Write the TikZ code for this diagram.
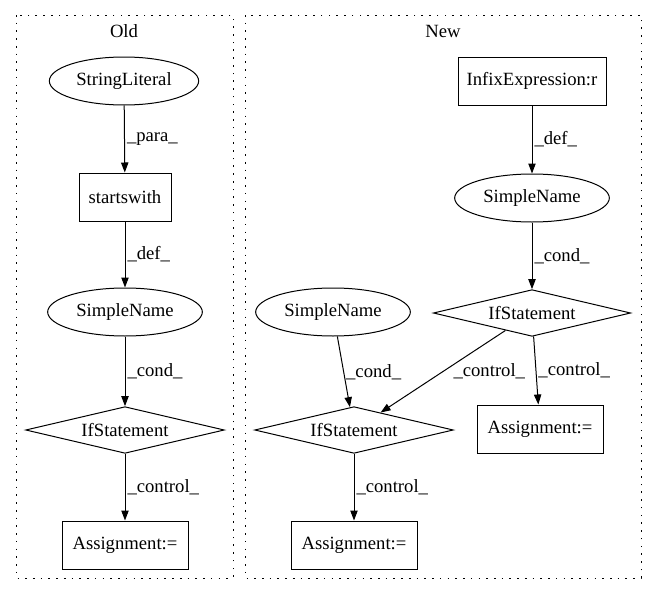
\documentclass[tikz,border=0pt]{standalone}
\usepackage{fontspec}
\setmainfont{Liberation Serif}
\usetikzlibrary{arrows.meta}
\usetikzlibrary{shapes.geometric}

\begin{document}
\begin{tikzpicture}[x=0.75pt, y=-0.75pt, line width=0.75pt]
\useasboundingbox (0,0) rectangle (657,596);
\begin{scope}
	\tikzstyle{every node}=[font=\fontsize{14}{16}\selectfont, inner sep=0pt, align=center]
	\tikzstyle{ell}=[draw, ellipse, minimum height=36pt]
	\tikzstyle{blk}=[draw, rectangle, minimum height=36pt]
	\tikzstyle{cnd}=[draw, diamond, shape aspect=4.25, minimum width=149pt, minimum height=35pt]
	\tikzstyle{edge}=[-{Triangle[length=7.5pt, width=5.5pt]}]
	\tikzstyle{lbl}=[midway, right, inner sep=1.5pt]
	\tikzstyle{cluster}=[dash pattern=on 1.2pt off 4.6pt]

	% clusters
	\draw[cluster] (16,15) rectangle (233,578);
	\draw[cluster] (245,15) rectangle (641,578);
	\node (old) at (124,31) {Old};
	\node (new) at (443,31) {New};

	% old
	\node[ell, minimum width=112pt] (lit) at (124,81) {StringLiteral};
	\node[blk, minimum width=69pt] (sw) at (125,197) {startswith};
	\node[ell, minimum width=116pt] (sn0) at (125,312) {SimpleName};
	\node[cnd] (if0) at (125,430) {IfStatement};
	\node[blk, minimum width=94.5pt] (as0) at (125,545) {Assignment:=};

	% new
	\node[blk, minimum width=111pt] (infix) at (532,81) {InfixExpression:r};
	\node[ell, minimum width=116pt] (sn1) at (532,198) {SimpleName};
	\node[cnd, minimum width=148pt] (if1) at (532,313) {IfStatement};
	\node[ell, minimum width=116pt] (sn2) at (333,312) {SimpleName};
	\node[cnd] (if2) at (354,430) {IfStatement};
	\node[blk, minimum width=94.5pt] (as1) at (540,429) {Assignment:=};
	\node[blk, minimum width=94.5pt] (as2) at (354,545) {Assignment:=};

	\draw[edge] (lit) -- node[lbl]{\_para\_} (sw);
	\draw[edge] (sw) -- node[lbl]{\_def\_} (sn0);
	\draw[edge] (sn0) -- node[lbl]{\_cond\_} (if0);
	\draw[edge] (if0) -- node[lbl]{\_control\_} (as0);

	\draw[edge] (infix) -- node[lbl]{\_def\_} (sn1);
	\draw[edge] (sn1) -- node[lbl]{\_cond\_} (if1);
	\draw[edge] (sn2) -- node[lbl]{\_cond\_} (if2);
	\draw[edge] (if1) -- node[lbl, xshift=6pt]{\_control\_} (if2);
	\draw[edge] (if1) -- node[lbl]{\_control\_} (as1);
	\draw[edge] (if2) -- node[lbl]{\_control\_} (as2);
\end{scope}
\end{tikzpicture}
\end{document}
